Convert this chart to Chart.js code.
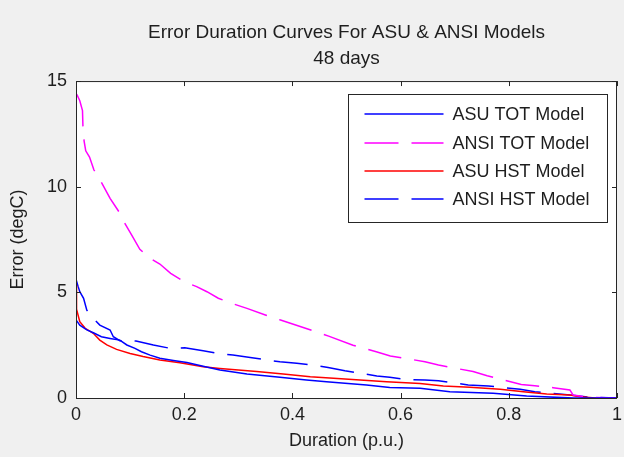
<!DOCTYPE html>
<html>
<head>
<meta charset="utf-8">
<title>Error Duration Curves</title>
<script src="https://cdn.jsdelivr.net/npm/chart.js@4/dist/chart.umd.min.js"></script>
<style>
  body { margin: 0; background: #f0f0f0; }
  #wrap { width: 624px; height: 457px; }
</style>
</head>
<body>
<div id="wrap"><canvas id="errChart" width="624" height="457"></canvas></div>
<script>
// ---- data ----
const titleLines = ["Error Duration Curves For ASU & ANSI Models", "48 days"];
const seriesNames = ["ASU TOT Model", "ANSI TOT Model", "ASU HST Model", "ANSI HST Model"];
const xTicks = [0, 0.2, 0.4, 0.6, 0.8, 1];
const yTicks = [0, 5, 10, 15];

const asuTotX = [0, 0.007, 0.02, 0.032, 0.047, 0.063, 0.081, 0.094, 0.109, 0.121, 0.137, 0.155, 0.18, 0.205, 0.235, 0.266, 0.316, 0.377, 0.426, 0.463, 0.537, 0.58, 0.636, 0.691, 0.771, 0.833, 0.888, 0.92, 1.0];
const asuTotY = [3.7, 3.45, 3.22, 3.09, 2.9, 2.82, 2.74, 2.51, 2.35, 2.19, 2.03, 1.88, 1.78, 1.68, 1.5, 1.33, 1.14, 0.98, 0.85, 0.77, 0.62, 0.5, 0.46, 0.3, 0.22, 0.09, 0.03, 0, 0];

const ansiTotX = [0, 0.002, 0.007, 0.012, 0.013, 0.015, 0.018, 0.025, 0.033, 0.048, 0.063, 0.081, 0.09, 0.103, 0.118, 0.137, 0.155, 0.175, 0.2, 0.223, 0.242, 0.263, 0.288, 0.316, 0.35, 0.378, 0.443, 0.467, 0.512, 0.555, 0.581, 0.645, 0.67, 0.734, 0.76, 0.823, 0.848, 0.882, 0.913, 0.919, 0.95, 1.0];
const ansiTotY = [14.4, 14.34, 14.07, 13.6, 12.7, 12.16, 11.7, 11.4, 10.8, 10.16, 9.45, 8.75, 8.28, 7.71, 7.04, 6.61, 6.34, 5.9, 5.5, 5.27, 5.03, 4.72, 4.48, 4.24, 3.93, 3.69, 3.14, 2.93, 2.5, 2.19, 1.99, 1.72, 1.56, 1.25, 1.05, 0.64, 0.58, 0.49, 0.38, 0.14, 0.03, 0];

const asuHstX = [0, 0.001, 0.007, 0.017, 0.032, 0.044, 0.057, 0.075, 0.1, 0.124, 0.155, 0.192, 0.235, 0.266, 0.334, 0.383, 0.433, 0.476, 0.525, 0.574, 0.636, 0.679, 0.728, 0.784, 0.827, 0.87, 0.913, 0.932, 0.96, 1.0];
const asuHstY = [5.35, 4.2, 3.61, 3.3, 3.06, 2.74, 2.51, 2.3, 2.11, 1.96, 1.8, 1.67, 1.48, 1.4, 1.25, 1.14, 1.01, 0.93, 0.85, 0.77, 0.69, 0.57, 0.51, 0.41, 0.3, 0.19, 0.14, 0.06, 0, 0];

const ansiHstX = [0, 0.004, 0.007, 0.014, 0.02, 0.032, 0.044, 0.063, 0.069, 0.081, 0.111, 0.143, 0.174, 0.201, 0.235, 0.263, 0.29, 0.322, 0.352, 0.377, 0.408, 0.442, 0.466, 0.497, 0.556, 0.58, 0.611, 0.645, 0.67, 0.725, 0.762, 0.821, 0.848, 0.882, 0.913, 0.95, 1.0];
const ansiHstY = [5.62, 5.27, 5.03, 4.72, 4.16, 3.77, 3.45, 3.22, 2.9, 2.71, 2.7, 2.51, 2.35, 2.38, 2.24, 2.11, 2.03, 1.92, 1.8, 1.72, 1.64, 1.55, 1.44, 1.29, 1.04, 0.98, 0.88, 0.85, 0.82, 0.62, 0.57, 0.41, 0.3, 0.22, 0.14, 0.03, 0];

const toPoints = (xs, ys) => xs.map((x, i) => ({ x: x, y: ys[i] }));

const FONT = "'Liberation Sans', Arial, sans-serif";
const TEXT_COLOR = "#1e1e1e";
const DASH = [34, 13];

// white plot box, matlab style inward ticks, legend inside the axes
const framePlugin = {
  id: "frame",
  beforeDatasetsDraw(chart) {
    const { ctx, chartArea: a } = chart;
    ctx.save();
    ctx.fillStyle = "#ffffff";
    ctx.fillRect(a.left, a.top, a.right - a.left, a.bottom - a.top);
    ctx.restore();
  },
  afterDraw(chart) {
    const { ctx, chartArea: a, scales } = chart;
    const tl = 5;
    ctx.save();
    ctx.strokeStyle = "#262626";
    ctx.lineWidth = 1;
    ctx.strokeRect(a.left + 0.5, a.top + 0.5, a.right - a.left - 1, a.bottom - a.top);
    ctx.beginPath();
    xTicks.forEach((v) => {
      const px = Math.round(scales.x.getPixelForValue(v)) + 0.5;
      ctx.moveTo(px, a.bottom);
      ctx.lineTo(px, a.bottom - tl);
      ctx.moveTo(px, a.top);
      ctx.lineTo(px, a.top + tl);
    });
    yTicks.forEach((v) => {
      const py = Math.round(scales.y.getPixelForValue(v)) + 0.5;
      ctx.moveTo(a.left, py);
      ctx.lineTo(a.left + tl, py);
      ctx.moveTo(a.right, py);
      ctx.lineTo(a.right - tl, py);
    });
    ctx.stroke();

    // legend
    const boxW = 259, boxH = 128;
    const bx = Math.round(a.right - 10 - boxW) + 0.5;
    const by = Math.round(a.top + 13) + 0.5;
    ctx.fillStyle = "#ffffff";
    ctx.fillRect(bx, by, boxW, boxH);
    ctx.strokeStyle = "#262626";
    ctx.strokeRect(bx, by, boxW, boxH);
    const rowY = [19, 48, 76, 104];
    ctx.font = "18px " + FONT;
    ctx.textBaseline = "middle";
    ctx.textAlign = "left";
    chart.data.datasets.forEach((ds, i) => {
      const y = Math.round(by + rowY[i]);
      ctx.beginPath();
      ctx.strokeStyle = ds.borderColor;
      ctx.lineWidth = ds.borderWidth;
      ctx.setLineDash(ds.borderDash || []);
      ctx.moveTo(bx + 16, y);
      ctx.lineTo(bx + 95, y);
      ctx.stroke();
      ctx.setLineDash([]);
      ctx.fillStyle = TEXT_COLOR;
      ctx.fillText(ds.label, bx + 104, y + 1);
    });
    ctx.restore();
  },
};

const ctx = document.getElementById("errChart").getContext("2d");

const errChart = new Chart(ctx, {
  type: "line",
  data: {
    datasets: [
      {
        label: seriesNames[0],
        data: toPoints(asuTotX, asuTotY),
        borderColor: "#0000ff",
        borderWidth: 1.5,
      },
      {
        label: seriesNames[1],
        data: toPoints(ansiTotX, ansiTotY),
        borderColor: "#ff00ff",
        borderWidth: 1.5,
        borderDash: DASH,
      },
      {
        label: seriesNames[2],
        data: toPoints(asuHstX, asuHstY),
        borderColor: "#ff0000",
        borderWidth: 1.5,
      },
      {
        label: seriesNames[3],
        data: toPoints(ansiHstX, ansiHstY),
        borderColor: "#0000ff",
        borderWidth: 1.5,
        borderDash: DASH,
      },
    ],
  },
  options: {
    responsive: false,
    animation: false,
    events: [],
    elements: { point: { radius: 0 }, line: { tension: 0 } },
    layout: { padding: { left: 0, right: 7, top: 0, bottom: 0 } },
    plugins: {
      legend: { display: false },
      tooltip: { enabled: false },
      title: {
        display: true,
        fullSize: false,
        text: titleLines,
        color: TEXT_COLOR,
        font: { family: FONT, size: 19, weight: "normal", lineHeight: 1.37 },
        padding: { top: 20, bottom: 9 },
      },
    },
    scales: {
      x: {
        type: "linear",
        min: 0,
        max: 1,
        afterBuildTicks: (scale) => {
          scale.ticks = xTicks.map((v) => ({ value: v }));
        },
        afterFit: (scale) => {
          scale.height = 59;
          scale.paddingLeft = 0;
          scale.paddingRight = 0;
        },
        grid: { display: false, drawTicks: false },
        border: { display: false },
        ticks: {
          color: TEXT_COLOR,
          font: { family: FONT, size: 18 },
          padding: 6,
          maxRotation: 0,
          callback: (v) => String(Math.round(v * 10) / 10),
        },
        title: {
          display: true,
          text: "Duration (p.u.)",
          color: TEXT_COLOR,
          font: { family: FONT, size: 18 },
          padding: { top: 0, bottom: 5 },
        },
      },
      y: {
        type: "linear",
        min: 0,
        max: 15,
        afterBuildTicks: (scale) => {
          scale.ticks = yTicks.map((v) => ({ value: v }));
        },
        afterFit: (scale) => {
          scale.width = 76;
        },
        grid: { display: false, drawTicks: false },
        border: { display: false },
        ticks: {
          color: TEXT_COLOR,
          font: { family: FONT, size: 18 },
          padding: 9,
        },
        title: {
          display: true,
          text: "Error (degC)",
          color: TEXT_COLOR,
          font: { family: FONT, size: 18 },
          padding: { top: 7, bottom: 0 },
        },
      },
    },
  },
  plugins: [framePlugin],
});
</script>
</body>
</html>
